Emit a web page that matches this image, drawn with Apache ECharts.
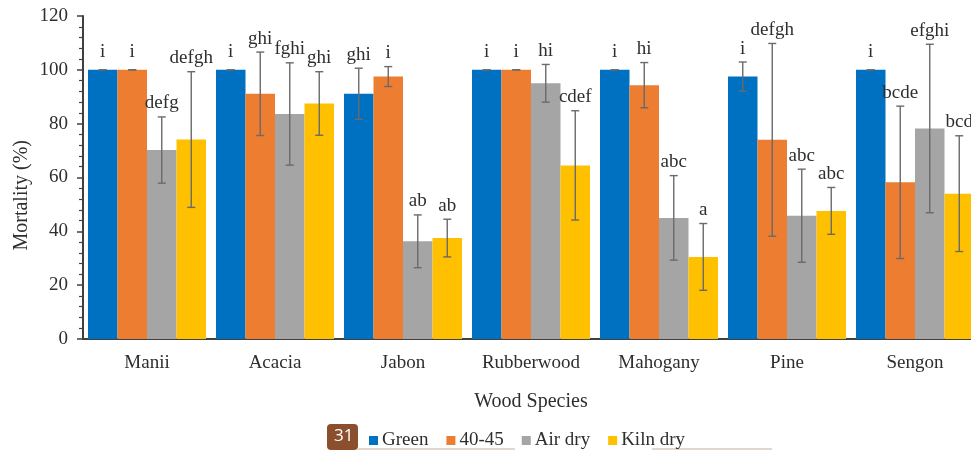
<!DOCTYPE html>
<html>
<head>
<meta charset="utf-8">
<script src="https://cdn.jsdelivr.net/npm/echarts@6/dist/echarts.min.js"></script>
<style>
    html, body { margin: 0; padding: 0; background: #fff; }
    #chart { width: 971px; height: 451px; }
</style>
</head>
<body>
<div id="chart"></div>
<script>
    const categories = ['Manii', 'Acacia', 'Jabon', 'Rubberwood', 'Mahogany', 'Pine', 'Sengon'];
    const seriesNames = ['Green', '40-45', 'Air dry', 'Kiln dry'];
    const yTicks = [0, 20, 40, 60, 80, 100, 120];

    const green = [100, 100, 91.1, 100, 100, 97.5, 100];
    const greenErr = [0, 0, 9.5, 0, 0, 5.4, 0];
    const greenLetters = ['i', 'i', 'ghi', 'i', 'i', 'i', 'i'];

    const mid = [100, 91.1, 97.5, 100, 94.3, 74, 58.2];
    const midErr = [0, 15.5, 3.7, 0, 8.4, 35.8, 28.3];
    const midLetters = ['i', 'ghi', 'i', 'i', 'hi', 'defgh', 'bcde'];

    const airDry = [70.2, 83.6, 36.3, 95, 45, 45.8, 78.2];
    const airDryErr = [12.3, 19, 9.8, 7, 15.7, 17.3, 31.3];
    const airDryLetters = ['defg', 'fghi', 'ab', 'hi', 'abc', 'abc', 'efghi'];

    const kilnDry = [74.1, 87.5, 37.5, 64.5, 30.5, 47.6, 54];
    const kilnDryErr = [25.2, 11.8, 7, 20.3, 12.4, 8.7, 21.5];
    const kilnDryLetters = ['defgh', 'ghi', 'ab', 'cdef', 'a', 'abc', 'bcd'];

    const colors = ['#0070C0', '#ED7D31', '#A5A5A5', '#FFC000'];
    const BAR_W = 29.5;
    const serif = '"Liberation Serif", "Times New Roman", serif';

    const values = [green, mid, airDry, kilnDry];
    const errors = [greenErr, midErr, airDryErr, kilnDryErr];
    const letters = [greenLetters, midLetters, airDryLetters, kilnDryLetters];

    // error bars + letters, one item per bar
    let errData = [];
    for (let s = 0; s < values.length; s++) {
        for (let c = 0; c < categories.length; c++) {
            errData.push([c, s, values[s][c], errors[s][c]]);
        }
    }

    function renderErr(params, api) {
        let c = api.value(0), s = api.value(1), v = api.value(2), e = api.value(3);
        let x = api.coord([c, v])[0] + (s - 1.5) * BAR_W;
        let yTop = api.coord([c, v + e])[1];
        let yBot = api.coord([c, v - e])[1];
        let lineStyle = { stroke: '#6a6a6a', lineWidth: 1.4 };
        // letters sit a bit higher when there is no error bar
        let lift = e === 0 ? 8 : 4;
        return {
            type: 'group',
            children: [
                { type: 'line', shape: { x1: x, y1: yTop, x2: x, y2: yBot }, style: lineStyle },
                { type: 'line', shape: { x1: x - 4, y1: yTop, x2: x + 4, y2: yTop }, style: lineStyle },
                { type: 'line', shape: { x1: x - 4, y1: yBot, x2: x + 4, y2: yBot }, style: lineStyle },
                {
                    type: 'text',
                    style: {
                        x: x, y: yTop - lift,
                        text: letters[s][c],
                        fill: '#2e2e2e',
                        font: '19px ' + serif,
                        textAlign: 'center',
                        textVerticalAlign: 'bottom'
                    }
                }
            ]
        };
    }

    let barSeries = seriesNames.map(function (name, i) {
        return {
            name: name,
            type: 'bar',
            data: values[i],
            barWidth: BAR_W,
            barGap: '0%',
            itemStyle: { color: colors[i] },
            z: 2
        };
    });

    let chart = echarts.init(document.getElementById('chart'));
    chart.setOption({
        animation: false,
        color: colors,
        textStyle: { fontFamily: serif },
        // plot runs past the right edge, like the cropped original
        grid: { left: 83, top: 16, width: 896, height: 323, outerBoundsMode: 'none' },
        legend: {
            data: seriesNames,
            left: 364,
            top: 426,
            icon: 'rect',
            itemWidth: 9,
            itemHeight: 9,
            itemGap: 18,
            textStyle: { fontFamily: serif, fontSize: 19, color: '#2e2e2e', padding: [0, 0, 0, -1] }
        },
        xAxis: {
            type: 'category',
            data: categories,
            name: 'Wood Species',
            nameLocation: 'middle',
            nameGap: 53,
            nameTextStyle: { fontFamily: serif, fontSize: 20, color: '#2e2e2e' },
            axisLine: { lineStyle: { color: '#404040', width: 2 } },
            axisTick: { show: false },
            axisLabel: { interval: 0, fontFamily: serif, fontSize: 19, color: '#2e2e2e', margin: 15 }
        },
        yAxis: {
            type: 'value',
            min: yTicks[0],
            max: yTicks[yTicks.length - 1],
            interval: 20,
            axisLine: { show: true, lineStyle: { color: '#404040', width: 2 } },
            axisTick: { show: true, length: 6, lineStyle: { color: '#404040', width: 1.5 } },
            minorTick: { show: true, splitNumber: 5, length: 4, lineStyle: { color: '#404040', width: 1.2 } },
            splitLine: { show: false },
            axisLabel: { fontFamily: serif, fontSize: 19, color: '#2e2e2e', margin: 15 }
        },
        graphic: [
            {
                type: 'text',
                left: 12, top: 140,
                rotation: Math.PI / 2,
                style: { text: 'Mortality (%)', font: '20px ' + serif, fill: '#2e2e2e' },
                originX: 0, originY: 0
            },
            {
                type: 'rect',
                left: 327, top: 424,
                shape: { width: 31, height: 26, r: 4 },
                style: { fill: '#8B4F2E' }
            },
            {
                type: 'text',
                left: 334, top: 428,
                style: { text: '31', font: '17px "Open Sans", sans-serif', fill: '#fff' }
            },
            {
                type: 'line',
                shape: { x1: 357, y1: 449, x2: 515, y2: 449 },
                style: { stroke: '#e3d6ca', lineWidth: 2 }
            },
            {
                type: 'line',
                shape: { x1: 652, y1: 449, x2: 772, y2: 449 },
                style: { stroke: '#e3d6ca', lineWidth: 2 }
            }
        ],
        series: barSeries.concat([{
            type: 'custom',
            name: 'errors',
            renderItem: renderErr,
            data: errData,
            encode: { x: 0, y: 2 },
            z: 5,
            silent: true
        }])
    });
</script>
</body>
</html>
